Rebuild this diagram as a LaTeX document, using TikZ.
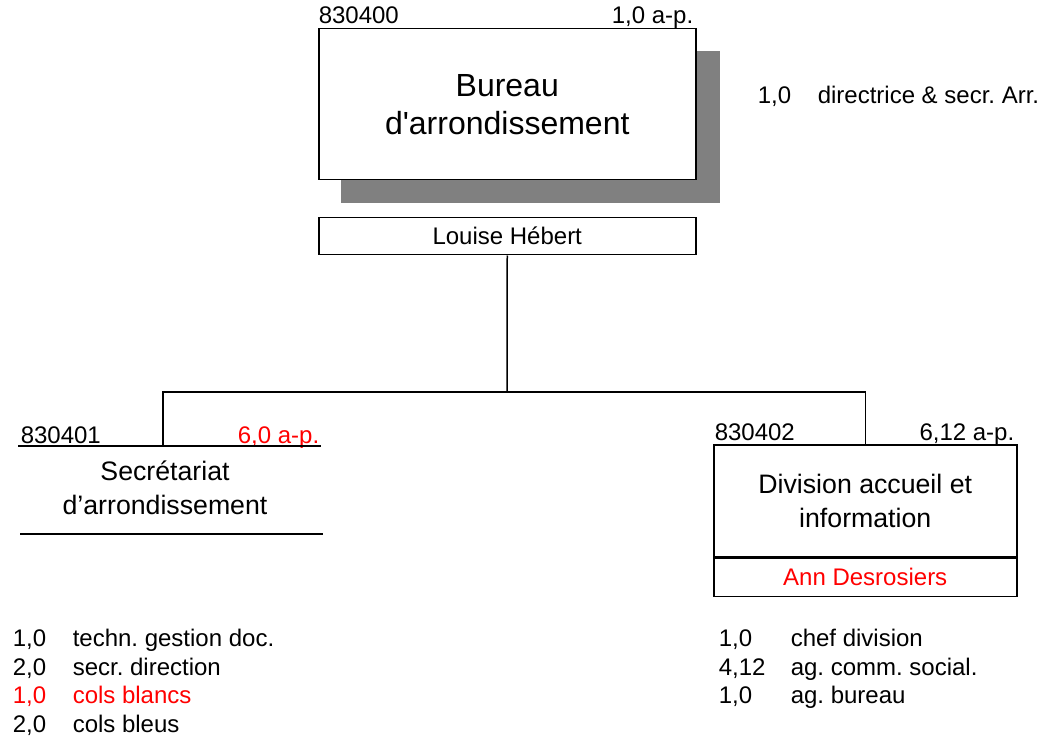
\documentclass[tikz,border=0pt]{standalone}
\usepackage{fontspec}
\usepackage{xcolor}
\usepackage{tikz}
\usetikzlibrary{positioning}
\newfontfamily\arialfont{Liberation Sans}
\definecolor{shadowgray}{RGB}{128,128,128}
\frenchspacing
\tikzset{
	lbl/.style={font=\arialfont\fontsize{24}{28.5}\selectfont, inner sep=0pt},
	unittxt/.style={font=\arialfont\fontsize{26.7}{34}\selectfont, align=center, inner sep=0pt},
	ttltxt/.style={font=\arialfont\fontsize{32}{38}\selectfont, align=center, inner sep=0pt},
	unitbox/.style={draw, fill=white, anchor=north west, inner sep=0pt},
}

\begin{document}
\begin{tikzpicture}[x=1pt, y=-1pt, line width=1.5pt]
		\useasboundingbox (0,0) rectangle (1042,738);

		\fill[shadowgray] (341,51) rectangle (720,203);
		\node[unitbox, minimum width=377pt, minimum height=151pt] (bureau) at (318,28) {};
		\node[ttltxt] (bureautxt) at (bureau.center) {Bureau\\d'arrondissement};
		\node[lbl, anchor=base west] (bureaunum) at (318,23.5) {830400};
		\node[lbl, anchor=base east] (bureauap) at (694,23.5) {1,0 a-p.};
		\node[lbl, anchor=base west] (bureauqty) at (757,104) {1,0};
		\node[lbl, anchor=base west] (bureaupost) at (817,104) {directrice \& secr. Arr.};

		\node[unitbox, minimum width=377pt, minimum height=37pt, lbl] (chef) at (318,217) {Louise Hébert};

		\coordinate (split) at (507,392);
		\coordinate (secL) at (18,446);
		\coordinate (secR) at (321,446);
		\coordinate (secTop) at (163,446);

		\node[lbl, anchor=base west] (secnum) at (20,443) {830401};
		\node[lbl, anchor=base east, red] (secap) at (320,443) {6,0 a-p.};
		\node[unittxt] (sec) at (165,488) {Secrétariat\\d’arrondissement};
		\draw (secL) -- (secR);
		\draw (20,534) -- (323,534);

		\node[unitbox, minimum width=303pt, minimum height=112pt] (division) at (713,444) {};
		\node[unittxt] (divtxt) at (division.center) {Division accueil et\\information};
		\node[unitbox, minimum width=303pt, minimum height=38pt, lbl, text=red] (ann) at (division.south west) {Ann Desrosiers};
		\node[lbl, anchor=base west] (divnum) at (714,440) {830402};
		\node[lbl, anchor=base east] (divap) at (1015,440) {6,12 a-p.};

		\draw (chef.south) -- (split);
		\draw (split) -| (secTop);
		\draw (split) -| (division.north);

		\node[lbl, anchor=base west] (q1) at (12,646.5) {1,0};
		\node[lbl, anchor=base west] (p1) at (72,646.5) {techn. gestion doc.};
		\node[lbl, anchor=base west] (q2) at (12,675) {2,0};
		\node[lbl, anchor=base west] (p2) at (72,675) {secr. direction};
		\node[lbl, anchor=base west, red] (q3) at (12,703.5) {1,0};
		\node[lbl, anchor=base west, red] (p3) at (72,703.5) {cols blancs};
		\node[lbl, anchor=base west] (q4) at (12,732) {2,0};
		\node[lbl, anchor=base west] (p4) at (72,732) {cols bleus};

		\node[lbl, anchor=base west] (r1) at (718,646.5) {1,0};
		\node[lbl, anchor=base west] (s1) at (790,646.5) {chef division};
		\node[lbl, anchor=base west] (r2) at (718,675) {4,12};
		\node[lbl, anchor=base west] (s2) at (790,675) {ag. comm. social.};
		\node[lbl, anchor=base west] (r3) at (718,703.5) {1,0};
		\node[lbl, anchor=base west] (s3) at (790,703.5) {ag. bureau};
	\end{tikzpicture}
\end{document}
